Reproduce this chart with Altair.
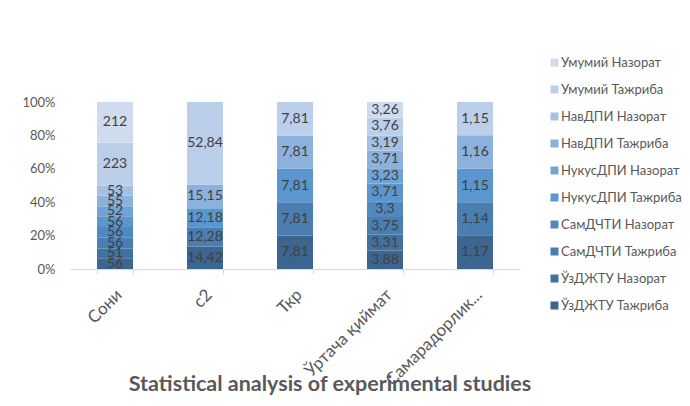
import altair as alt
import pandas as pd

categories = ["Сони", "c2", "Ткр", "Ўртача қиймат", "Самарадорлик..."]
series = ["ЎзДЖТУ Тажриба", "ЎзДЖТУ Назорат", "СамДЧТИ Тажриба", "СамДЧТИ Назорат",
          "НукусДПИ Тажриба", "НукусДПИ Назорат", "НавДПИ Тажриба", "НавДПИ Назорат",
          "Умумий Тажриба", "Умумий Назорат"]
colors = ["#3c6590", "#43719f", "#4a7db0", "#5088bf", "#5b97cf",
          "#70a4d7", "#8cb1dc", "#a4c1e3", "#bccfea", "#cfdcef"]

uzdjtu_t = [56, 14.42, 7.81, 3.88, 1.17]
uzdjtu_n = [51, None, None, 3.31, None]
samdchti_t = [56, 12.28, 7.81, 3.75, 1.14]
samdchti_n = [56, None, None, 3.3, None]
nukus_t = [56, 12.18, 7.81, 3.71, 1.15]
nukus_n = [52, None, None, 3.23, None]
nav_t = [55, 15.15, 7.81, 3.71, 1.16]
nav_n = [53, None, None, 3.19, None]
umumiy_t = [223, 52.84, 7.81, 3.76, 1.15]
umumiy_n = [212, None, None, 3.26, None]

all_values = [uzdjtu_t, uzdjtu_n, samdchti_t, samdchti_n, nukus_t, nukus_n,
              nav_t, nav_n, umumiy_t, umumiy_n]

rows = []
for si, (name, vals) in enumerate(zip(series, all_values)):
    for ci, (cat, v) in enumerate(zip(categories, vals)):
        if v is not None:
            rows.append({"category": cat, "series": name, "idx": si, "value": v,
                         "label": str(v).replace(".", ",")})
df = pd.DataFrame(rows)

font = "Lato"
grey = "#595959"

x_axis = alt.Axis(title=None, labelAngle=-45, labelAlign="right",
                  labelBaseline="middle", labelFontSize=17, labelFont=font,
                  labelColor=grey, domainColor="#d9d9d9", tickColor="#d9d9d9",
                  tickBand="extent", tickSize=5, labelPadding=18,
                  labelOffset=4, labelOverlap=False, labelLimit=250)
y_axis = alt.Axis(title=None, values=[0, 0.2, 0.4, 0.6, 0.8, 1.0], format=".0%",
                  grid=False, domain=False, ticks=False, labelPadding=15,
                  labelOverlap=False, labelFlush=False,
                  labelFontSize=13, labelFont=font, labelColor=grey)
x_scale = alt.Scale(paddingInner=0.6, paddingOuter=0.3)
y_scale = alt.Scale(domain=[0, 1])

bars = alt.Chart(df).mark_bar().encode(
    x=alt.X("category:N", sort=categories, scale=x_scale, axis=x_axis),
    y=alt.Y("value:Q", stack="normalize", scale=y_scale, axis=y_axis),
    color=alt.Color("series:N",
                    scale=alt.Scale(domain=series[::-1], range=colors[::-1]),
                    legend=alt.Legend(title=None, orient="none", legendX=478, legendY=-46,
                                      symbolType="square", symbolSize=64,
                                      symbolStrokeWidth=0, labelFontSize=13,
                                      labelFont=font, labelColor=grey, rowPadding=13,
                                      labelOffset=0, padding=0, labelLimit=200)),
    order=alt.Order("idx:Q", sort="ascending"),
)

texts = alt.Chart(df).transform_stack(
    stack="value", groupby=["category"], as_=["y0", "y1"],
    sort=[alt.SortField("idx", order="ascending")], offset="normalize"
).transform_calculate(
    mid="(datum.y0 + datum.y1) / 2"
).mark_text(fontSize=14, font=font, color="#404040", baseline="middle").encode(
    x=alt.X("category:N", sort=categories, scale=x_scale, axis=x_axis),
    y=alt.Y("mid:Q", scale=y_scale, axis=y_axis),
    text="label:N",
)

chart = alt.layer(bars, texts).properties(
    width=450, height=167,
    title=alt.TitleParams("Statistical analysis of experimental studies", orient="bottom",
                          fontSize=21.5, font=font, fontWeight="bold", color=grey,
                          anchor="middle", dx=35, offset=-14),
    autosize=alt.AutoSizeParams(type="none"),
    padding={"left": 62, "top": 94, "right": 162, "bottom": 129},
).configure_view(stroke=None)

chart.save("out.html", embed_options={"renderer": "svg", "actions": False})
